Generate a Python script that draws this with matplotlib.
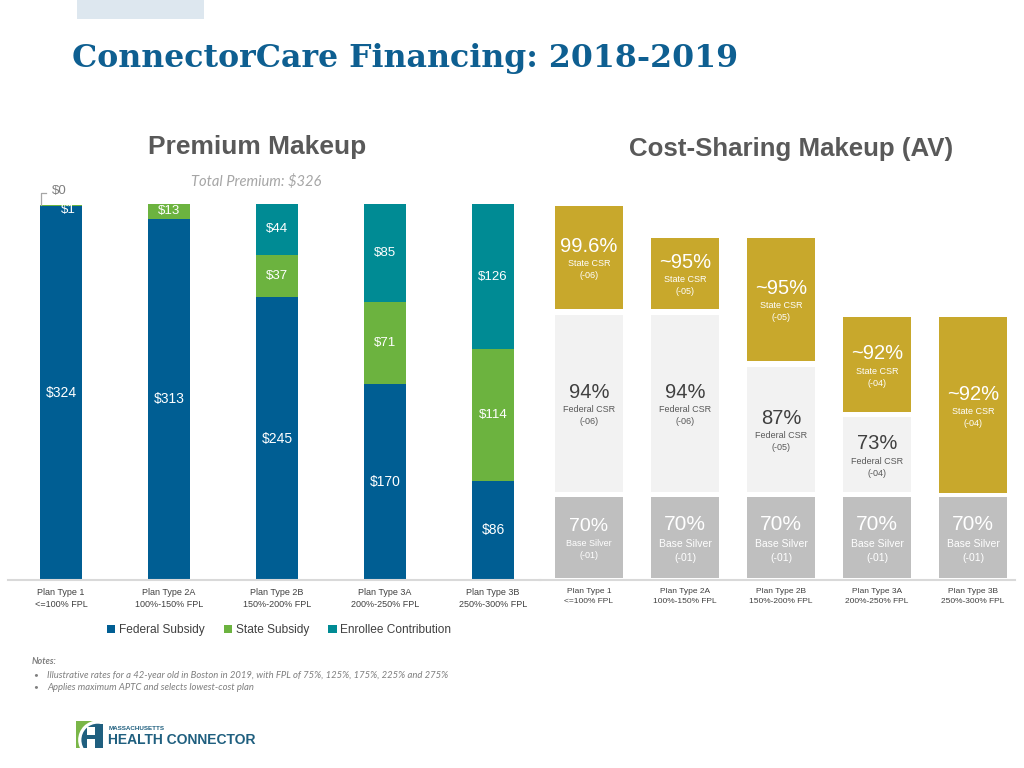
import matplotlib
matplotlib.use('Agg')
import matplotlib.pyplot as plt
from matplotlib.patches import Rectangle, Patch, Arc, Circle

W, H, DPI = 1024, 768, 100

# ---------------- data ----------------
plans = ['Plan Type 1\n<=100% FPL', 'Plan Type 2A\n100%-150% FPL', 'Plan Type 2B\n150%-200% FPL',
         'Plan Type 3A\n200%-250% FPL', 'Plan Type 3B\n250%-300% FPL']
federal = [324, 313, 245, 170, 86]
state = [1, 13, 37, 71, 114]
enrollee = [0, 0, 44, 85, 126]
total_premium = 326

base_av = ['70%', '70%', '70%', '70%', '70%']
base_code = ['(-01)', '(-01)', '(-01)', '(-01)', '(-01)']
fed_av = ['94%', '94%', '87%', '73%', None]
fed_code = ['(-06)', '(-06)', '(-05)', '(-04)', None]
state_av = ['99.6%', '~95%', '~95%', '~92%', '~92%']
state_code = ['(-06)', '(-05)', '(-05)', '(-04)', '(-04)']
# block extents on the slide's illustrative (non-linear) AV scale
base_lo = [2, 2, 2, 2, 2]
base_hi = [83, 83, 83, 83, 83]
fed_lo = [88, 88, 88, 88, None]
fed_hi = [265, 265, 213, 163, None]
state_lo = [271, 271, 219, 168, 87]
state_hi = [374, 342, 342, 263, 263]

BLUE, GREEN, TEAL = '#005E93', '#6CB33F', '#008B94'
GOLD, LIGHT, SILVER = '#C8A82C', '#F2F2F2', '#BFBFBF'
SANS = ['Liberation Sans', 'DejaVu Sans']

fig = plt.figure(figsize=(W / DPI, H / DPI), dpi=DPI)
fig.patch.set_facecolor('white')


def frect(x0, y0, x1, y1):
    return [x0 / W, 1 - y1 / H, (x1 - x0) / W, (y1 - y0) / H]


def fx(x):
    return x / W


def fy(y):
    return 1 - y / H


renderer = fig.canvas.get_renderer()


def fit(t, target):
    w = t.get_window_extent(renderer=renderer).width
    t.set_fontsize(t.get_fontsize() * target / w)


# ---------------- decorations ----------------
fig.patches.append(Rectangle((fx(77), fy(19)), (204 - 77) / W, 19 / H, transform=fig.transFigure,
                             facecolor='#DDE7EF', edgecolor='none'))
t = fig.text(fx(72), fy(67), 'ConnectorCare Financing: 2018-2019', family=['DejaVu Serif'],
             fontweight='bold', fontsize=22, color='#0E5F91', va='baseline', ha='left')
fit(t, 665)

t = fig.text(fx(257), fy(147), 'Premium Makeup', family=SANS, fontweight='bold', fontsize=17,
             color='#595959', ha='center', va='center')
fit(t, 219)
t = fig.text(fx(791), fy(149), 'Cost-Sharing Makeup (AV)', family=SANS, fontweight='bold', fontsize=17,
             color='#595959', ha='center', va='center')
fit(t, 326)
t = fig.text(fx(256), fy(182), f'Total Premium: ${total_premium}', family=['Lato', 'DejaVu Sans'],
             style='italic', fontsize=8, color='#A6A6A6', ha='center', va='center')
fit(t, 131)

# ---------------- left: premium makeup ----------------
ax = fig.add_axes(frect(8, 204, 540, 580))
x = list(range(len(plans)))
bw = 42 / 108
ax.bar(x, federal, width=bw, color=BLUE, edgecolor='none')
bot2 = federal
ax.bar(x, state, width=bw, bottom=bot2, color=GREEN, edgecolor='none')
bot3 = [f + s for f, s in zip(federal, state)]
ax.bar(x, enrollee, width=bw, bottom=bot3, color=TEAL, edgecolor='none')
ax.set_xlim(-53 / 108, 479 / 108)
ax.set_ylim(0, total_premium)
ppu = 376 / total_premium  # pixels per dollar

for i in x:
    ax.text(i, federal[i] / 2, f'${federal[i]}', ha='center', va='center', color='white',
            fontsize=10, family=SANS)
    if state[i] >= 10:
        ax.text(i, federal[i] + state[i] / 2, f'${state[i]}', ha='center', va='center',
                color='white', fontsize=9.5, family=SANS)
    if enrollee[i] >= 10:
        ax.text(i, bot3[i] + enrollee[i] / 2, f'${enrollee[i]}', ha='center', va='center',
                color='white', fontsize=9.5, family=SANS)
# small segments on plan type 1
ax.text(0 + 7 / 108, bot3[0] - 5 / ppu, f'${state[0]}', ha='center', va='center', color='white',
        fontsize=9.5, family=SANS)
lx = 0 - bw / 2 + 1 / 108
top0 = bot3[0] + enrollee[0]
ax.plot([lx, lx, lx + 5 / 108], [top0, top0 + 12 / ppu, top0 + 12 / ppu], color='#A6A6A6', lw=0.9,
        clip_on=False)
ax.text(lx + 11 / 108, top0 + 14 / ppu, f'${enrollee[0]}', ha='left', va='center', color='#7F7F7F',
        fontsize=9.5, family=SANS)

for s in ['top', 'left', 'right']:
    ax.spines[s].set_visible(False)
ax.spines['bottom'].set_color('#D9D9D9')
ax.spines['bottom'].set_linewidth(1.5)
ax.set_yticks([])
ax.set_xticks(x)
ax.set_xticklabels(plans, fontsize=6.5, color='#404040', family=SANS, linespacing=1.35)
ax.tick_params(axis='x', length=0, pad=6)
ax.patch.set_alpha(0)

# ---------------- right: cost-sharing makeup ----------------
ax2 = fig.add_axes(frect(540, 204, 1015, 580))
bw2 = 68 / 96
ax2.set_xlim(-49 / 96, 426 / 96)
ax2.set_ylim(0, 376)
hb = [h - l for h, l in zip(base_hi, base_lo)]
ax2.bar(x, hb, width=bw2, bottom=base_lo, color=SILVER, edgecolor='none')
fx_i = [i for i in x if fed_lo[i] is not None]
ax2.bar(fx_i, [fed_hi[i] - fed_lo[i] for i in fx_i], width=bw2, bottom=[fed_lo[i] for i in fx_i],
        color=LIGHT, edgecolor='none')
hs = [h - l for h, l in zip(state_hi, state_lo)]
ax2.bar(x, hs, width=bw2, bottom=state_lo, color=GOLD, edgecolor='none')


def block_text(i, lo, hi, big, small1, small2, c_big, c_small, fb=14.5, fs=6.5):
    c = (lo + hi) / 2
    ax2.text(i, c + 11, big, ha='center', va='center', color=c_big, fontsize=fb, family=SANS)
    ax2.text(i, c - 6.5, small1, ha='center', va='center', color=c_small, fontsize=fs, family=SANS)
    ax2.text(i, c - 18.5, small2, ha='center', va='center', color=c_small, fontsize=fs, family=SANS)


for i in x:
    block_text(i, state_lo[i], state_hi[i], state_av[i], 'State CSR', state_code[i], 'white', 'white')
    if fed_lo[i] is not None:
        block_text(i, fed_lo[i], fed_hi[i], fed_av[i], 'Federal CSR', fed_code[i], '#404040', '#595959')
    if i == 0:
        block_text(i, base_lo[i], base_hi[i], base_av[i], 'Base Silver', base_code[i], 'white', 'white',
                   fb=14, fs=6.5)
    else:
        ax2.text(i, (base_lo[i] + base_hi[i]) / 2 + 12.5, base_av[i], ha='center', va='center',
                 color='white', fontsize=15, family=SANS)
        ax2.text(i, (base_lo[i] + base_hi[i]) / 2 - 6.5, 'Base Silver', ha='center', va='center',
                 color='white', fontsize=7.5, family=SANS)
        ax2.text(i, (base_lo[i] + base_hi[i]) / 2 - 20.5, base_code[i], ha='center', va='center',
                 color='white', fontsize=7.5, family=SANS)

for s in ['top', 'left', 'right']:
    ax2.spines[s].set_visible(False)
ax2.spines['bottom'].set_color('#D9D9D9')
ax2.spines['bottom'].set_linewidth(1.5)
ax2.set_yticks([])
ax2.set_xticks(x)
ax2.set_xticklabels(plans, fontsize=6, color='#404040', family=SANS, linespacing=1.45)
ax2.tick_params(axis='x', length=0, pad=6)
ax2.patch.set_alpha(0)

# ---------------- legend ----------------
handles = [Patch(facecolor=BLUE, label='Federal Subsidy'),
           Patch(facecolor=GREEN, label='State Subsidy'),
           Patch(facecolor=TEAL, label='Enrollee Contribution')]
leg = fig.legend(handles=handles, loc='center', bbox_to_anchor=(fx(279), fy(630)), ncol=3,
                 frameon=False, handlelength=0.7, handleheight=0.7,
                 handletextpad=0.3, columnspacing=1.6, prop={'family': SANS, 'size': 8.6})
for tt in leg.get_texts():
    tt.set_color('#404040')

# ---------------- notes ----------------
NF = ['Lato', 'DejaVu Sans']
fig.text(fx(32), fy(662), 'Notes:', family=NF, style='italic', fontweight='bold', fontsize=6.5,
         color='#7F7F7F', va='center')
notes = ['Illustrative rates for a 42-year old in Boston in 2019, with FPL of 75%, 125%, 175%, 225% and 275%',
         'Applies maximum APTC and selects lowest-cost plan']
for k, (n, yy) in enumerate(zip(notes, [675, 687])):
    fig.text(fx(33), fy(yy), '•', family=NF, fontsize=6, color='#7F7F7F', va='center')
    t = fig.text(fx(47), fy(yy), n, family=NF, style='italic', fontsize=6.5, color='#7F7F7F',
                 va='center')
    if k == 0:
        fit(t, 400)
        nfs = t.get_fontsize()
    else:
        t.set_fontsize(nfs)

# ---------------- logo ----------------
LB = '#1F5F7F'
lax = fig.add_axes(frect(76, 721, 103, 748))
lax.set_xlim(0, 1)
lax.set_ylim(0, 1)
lax.axis('off')
lax.add_patch(Rectangle((0, 0), 1, 1, facecolor='#7AB648', edgecolor='none'))
clip = Rectangle((0, 0), 1, 1, transform=lax.transData)
c1 = Circle((0.8, 0.3), 0.72, facecolor='white', edgecolor='none')
lax.add_patch(c1)
c1.set_clip_path(clip)
c2 = Circle((0.8, 0.3), 0.6, facecolor=LB, edgecolor='none')
lax.add_patch(c2)
c2.set_clip_path(clip)
lax.add_patch(Rectangle((0.42, 0.0), 0.28, 0.78, facecolor='white', edgecolor='none'))
lax.add_patch(Rectangle((0.38, 0.33), 0.4, 0.15, facecolor=LB, edgecolor='none'))
lax.add_patch(Rectangle((0.70, 0.0), 0.3, 0.9, facecolor=LB, edgecolor='none'))
t = fig.text(fx(109), fy(728), 'MASSACHUSETTS', family=SANS, fontweight='bold', fontsize=4,
             color=LB, va='center')
fit(t, 56)
t = fig.text(fx(108), fy(739.5), 'HEALTH CONNECTOR', family=SANS, fontweight='bold', fontsize=10,
             color=LB, va='center')
fit(t, 148)

fig.savefig('out.png', dpi=DPI, facecolor='white')
